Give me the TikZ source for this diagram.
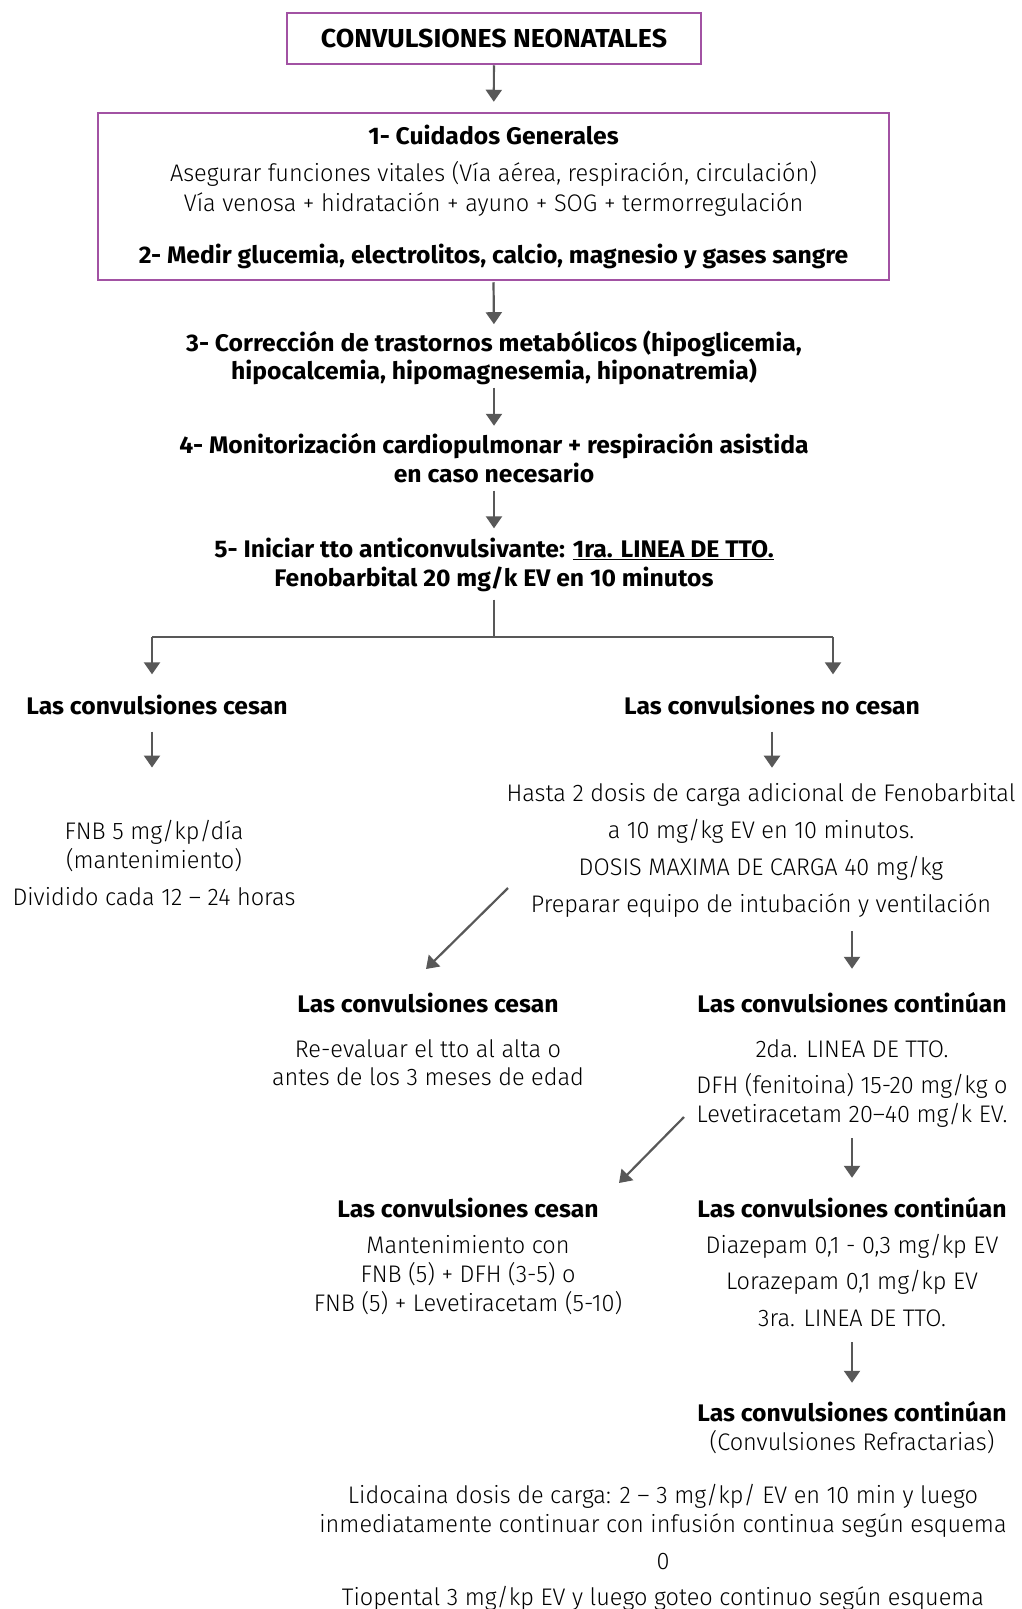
\documentclass[tikz,border=0pt]{standalone}
\usepackage{fontspec}
\setmainfont{Fira Sans Light}[BoldFont={Fira Sans Bold}, UprightFeatures={FakeStretch=0.98}, BoldFeatures={FakeStretch=1.03}]
\usetikzlibrary{arrows.meta}
\definecolor{marco}{RGB}{162,82,163}
\definecolor{flecha}{RGB}{88,88,88}
\tikzset{
  txt/.style={anchor=base, inner sep=0pt, align=center, font=\fontsize{24}{29}\selectfont},
  tit/.style={txt, font=\fontsize{24}{29}\selectfont\bfseries},
  caja/.style={draw=marco, line width=2.5pt, inner sep=0pt, align=center},
  lin/.style={draw=flecha, line width=2.2pt},
  arr/.style={lin, -{Triangle[width=16pt,length=12pt]}},
}
\begin{document}
\begin{tikzpicture}[x=1pt, y=-1pt]
    \useasboundingbox (0,0) rectangle (1022,1609);
    % Cajas
    \node[caja, minimum width=414pt, minimum height=51pt, font=\fontsize{26}{29}\selectfont\bfseries]
        (titulo) at (494,38.5) {CONVULSIONES NEONATALES};
    \node[caja, minimum width=791pt, minimum height=167pt, font=\fontsize{24}{30}\selectfont]
        (cuidados) at (493.5,196.5) {\textbf{1- Cuidados Generales}\\[7pt]
        Asegurar funciones vitales (Vía aérea, respiración, circulación)\\
        Vía venosa + hidratación + ayuno + SOG + termorregulación\\[22pt]
        \textbf{2- Medir glucemia, electrolitos, calcio, magnesio y gases sangre}};

    % Pasos (anclados en la linea base de la ultima linea)
    \node[tit, font=\fontsize{24}{28}\selectfont\bfseries] (correccion) at (494,379)
        {3- Corrección de trastornos metabólicos (hipoglicemia,\\
         hipocalcemia, hipomagnesemia, hiponatremia)};
    \node[tit] (monitor) at (494,482)
        {4- Monitorización cardiopulmonar + respiración asistida\\ en caso necesario};
    \node[tit] (inicio) at (494,586)
        {5- Iniciar tto anticonvulsivante: \underline{1ra. LINEA DE TTO.}\\
         Fenobarbital 20 mg/k EV en 10 minutos};

    % Primera rama
    \node[tit] (cesanA) at (157,714) {Las convulsiones cesan};
    \node[tit] (nocesan) at (772,714) {Las convulsiones no cesan};
    \node[txt] (fnb) at (154,905) {FNB 5 mg/kp/día\\ (mantenimiento)\\[8pt] Dividido cada 12 – 24 horas};
    \node[txt, font=\fontsize{24}{37}\selectfont] (hasta) at (761,912)
        {Hasta 2 dosis de carga adicional de Fenobarbital\\
         a 10 mg/kg EV en 10 minutos.\\
         DOSIS MAXIMA DE CARGA 40 mg/kg\\
         Preparar equipo de intubación y ventilación};

    % Segunda rama
    \node[tit] (cesanB) at (428,1012) {Las convulsiones cesan};
    \node[txt, font=\fontsize{24}{28}\selectfont] (reevaluar) at (428,1085)
        {Re-evaluar el tto al alta o\\ antes de los 3 meses de edad};
    \node[tit] (continuanB) at (852,1012) {Las convulsiones continúan};
    \node[txt] (segunda) at (852,1122)
        {2da. LINEA DE TTO.\\[7pt] DFH (fenitoina) 15-20 mg/kg o\\ Levetiracetam 20–40 mg/k EV.};

    % Tercera rama
    \node[tit] (cesanC) at (468,1217) {Las convulsiones cesan};
    \node[txt] (manten) at (468,1311)
        {Mantenimiento con\\ FNB (5) + DFH (3-5) o\\ FNB (5) + Levetiracetam (5-10)};
    \node[tit] (continuanC) at (852,1217) {Las convulsiones continúan};
    \node[txt, font=\fontsize{24}{36.5}\selectfont] (diazepam) at (852,1326)
        {Diazepam 0,1 - 0,3 mg/kp EV\\ Lorazepam 0,1 mg/kp EV\\ 3ra. LINEA DE TTO.};

    % Refractarias
    \node[txt] (continuanD) at (852,1450)
        {\textbf{Las convulsiones continúan}\\ (Convulsiones Refractarias)};
    \node[txt] (lidocaina) at (663,1605)
        {Lidocaina dosis de carga: 2 – 3 mg/kp/ EV en 10 min y luego\\
         inmediatamente continuar con infusión continua según esquema\\[8pt]
         0\\[7pt]
         Tiopental 3 mg/kp EV y luego goteo continuo según esquema};

    % Flechas
    \coordinate (jc) at (494,637);
    \coordinate (jl) at (152,637);
    \coordinate (jr) at (833,637);
    \coordinate (d1a) at (508,888);
    \coordinate (d1b) at (426,969);
    \coordinate (d2a) at (684,1117);
    \coordinate (d2b) at (619,1183);

    \draw[arr, shorten >=10pt] (titulo) -- (cuidados);
    \draw[arr, shorten <=1pt, shorten >=6pt] (cuidados.south) -- (correccion.north);
    \draw[arr, shorten <=3pt, shorten >=7pt] (correccion.south) -- (monitor.north);
    \draw[arr, shorten <=8pt, shorten >=9pt] (monitor.south) -- (inicio.north);
    \draw[lin, shorten <=8pt] (inicio.south) -- (jc);
    \draw[lin] (jl) -- (jr);
    \draw[arr, shorten >=20pt] (jl) -- (jl |- cesanA.north);
    \draw[arr, shorten >=20pt] (jr) -- (jr |- nocesan.north);
    \draw[arr, shorten <=17pt, shorten >=52pt] (cesanA.south -| jl) -- (jl |- fnb.north);
    \draw[arr, shorten <=17pt, shorten >=15pt] (nocesan.south) -- (nocesan.south |- hasta.north);
    \draw[arr] (d1a) -- (d1b);
    \draw[arr, shorten <=14pt, shorten >=23pt] (hasta.south -| continuanB) -- (continuanB.north);
    \draw[arr] (d2a) -- (d2b);
    \draw[arr, shorten <=11pt, shorten >=19pt] (segunda.south) -- (continuanC.north);
    \draw[arr, shorten <=16pt, shorten >=18pt] (diazepam.south) -- (continuanD.north);
\end{tikzpicture}
\end{document}
